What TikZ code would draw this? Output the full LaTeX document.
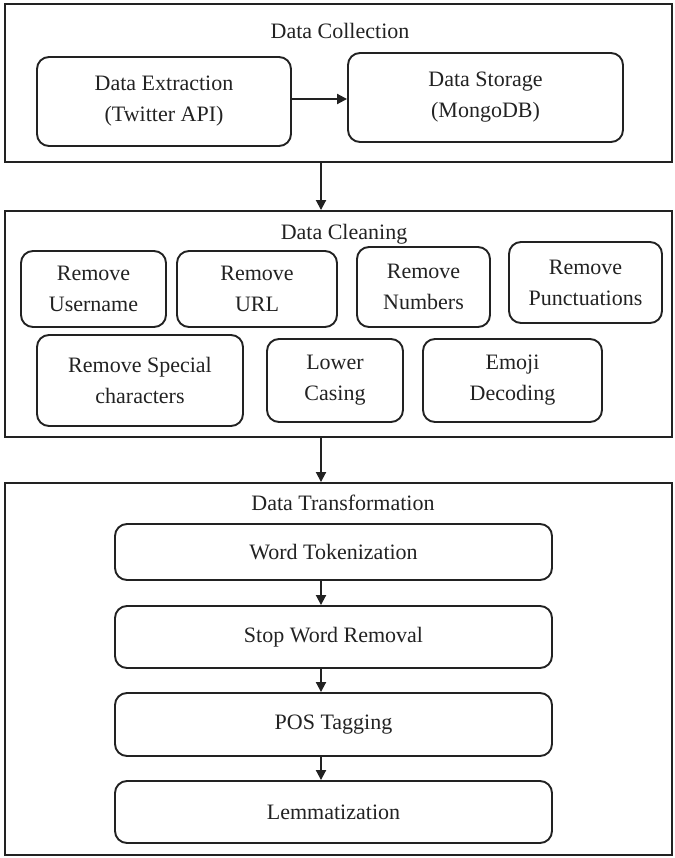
\documentclass[tikz,border=0pt]{standalone}
\usepackage{fontspec}
\setmainfont{Liberation Serif}
\usetikzlibrary{arrows.meta}

\definecolor{inkgray}{RGB}{34,34,34}
\tikzset{every picture/.style={line width=1.9pt}}
\tikzset{
	stage/.style={draw=inkgray, minimum width=667pt, inner sep=0pt},
	heading/.style={text=inkgray, font=\fontsize{22}{31}\selectfont},
	task/.style={draw=inkgray, rounded corners=12pt, align=center, inner sep=0pt,
		text=inkgray, font=\fontsize{22}{31}\selectfont},
	flow/.style={draw=inkgray, -{Triangle[length=10pt,width=10pt]}}}

\begin{document}
\begin{tikzpicture}[x=1pt,y=1pt,yscale=-1,xscale=1]
	\path[use as bounding box] (0,0) rectangle (674,858);
	\coordinate (spine) at (321,0);
	\coordinate (link) at (0,99);

	%Shape: Rectangle [collection stage]
	\node[stage, minimum height=158pt] (collect) at (338.5,83) {};
	% Text Node
	\node[heading] (collectT) at (340,31) {Data Collection};
	\node[task, minimum width=254pt, minimum height=89pt] (ext) at (164,101.5) {Data Extraction\\(Twitter API)};
	\node[task, minimum width=275pt, minimum height=89pt] (store) at (485.5,97.5) {Data Storage\\(MongoDB)};

	%Shape: Rectangle [cleaning stage]
	\node[stage, minimum height=226pt] (clean) at (338.5,324) {};
	% Text Node
	\node[heading] (cleanT) at (344,234) {Data Cleaning};
	\node[task, minimum width=145pt, minimum height=76pt] (user) at (93.5,289) {Remove\\Username};
	\node[task, minimum width=160pt, minimum height=76pt] (url) at (257,289) {Remove\\URL};
	\node[task, minimum width=133pt, minimum height=80pt] (num) at (423.5,287) {Remove\\Numbers};
	\node[task, minimum width=153pt, minimum height=81pt] (punct) at (585.5,282.5) {Remove\\Punctuations};
	\node[task, minimum width=206pt, minimum height=91pt] (spec) at (140,380.5) {Remove Special\\characters};
	\node[task, minimum width=136pt, minimum height=83pt] (lower) at (335,380.5) {Lower\\Casing};
	\node[task, minimum width=179pt, minimum height=83pt] (emoji) at (512.5,380.5) {Emoji\\Decoding};

	%Shape: Rectangle [transformation stage]
	\node[stage, minimum height=372pt] (transf) at (338.5,669) {};
	% Text Node
	\node[heading] (transfT) at (343,503) {Data Transformation};
	\node[task, minimum width=437pt, minimum height=56pt] (tok) at (333.5,552) {Word Tokenization};
	\node[task, minimum width=437pt, minimum height=62pt] (stop) at (333.5,637) {Stop Word Removal};
	\node[task, minimum width=437pt, minimum height=63pt] (pos) at (333.5,724.5) {POS Tagging};
	\node[task, minimum width=437pt, minimum height=62pt] (lem) at (333.5,812) {Lemmatization};

	% Arrows
	\draw[flow] (ext.east |- link) -- (store.west |- link);
	\draw[flow] (collect.south -| spine) -- (clean.north -| spine);
	\draw[flow] (clean.south -| spine) -- (transf.north -| spine);
	\draw[flow] (tok.south -| spine) -- (stop.north -| spine);
	\draw[flow] (stop.south -| spine) -- (pos.north -| spine);
	\draw[flow] (pos.south -| spine) -- (lem.north -| spine);

\end{tikzpicture}
\end{document}
